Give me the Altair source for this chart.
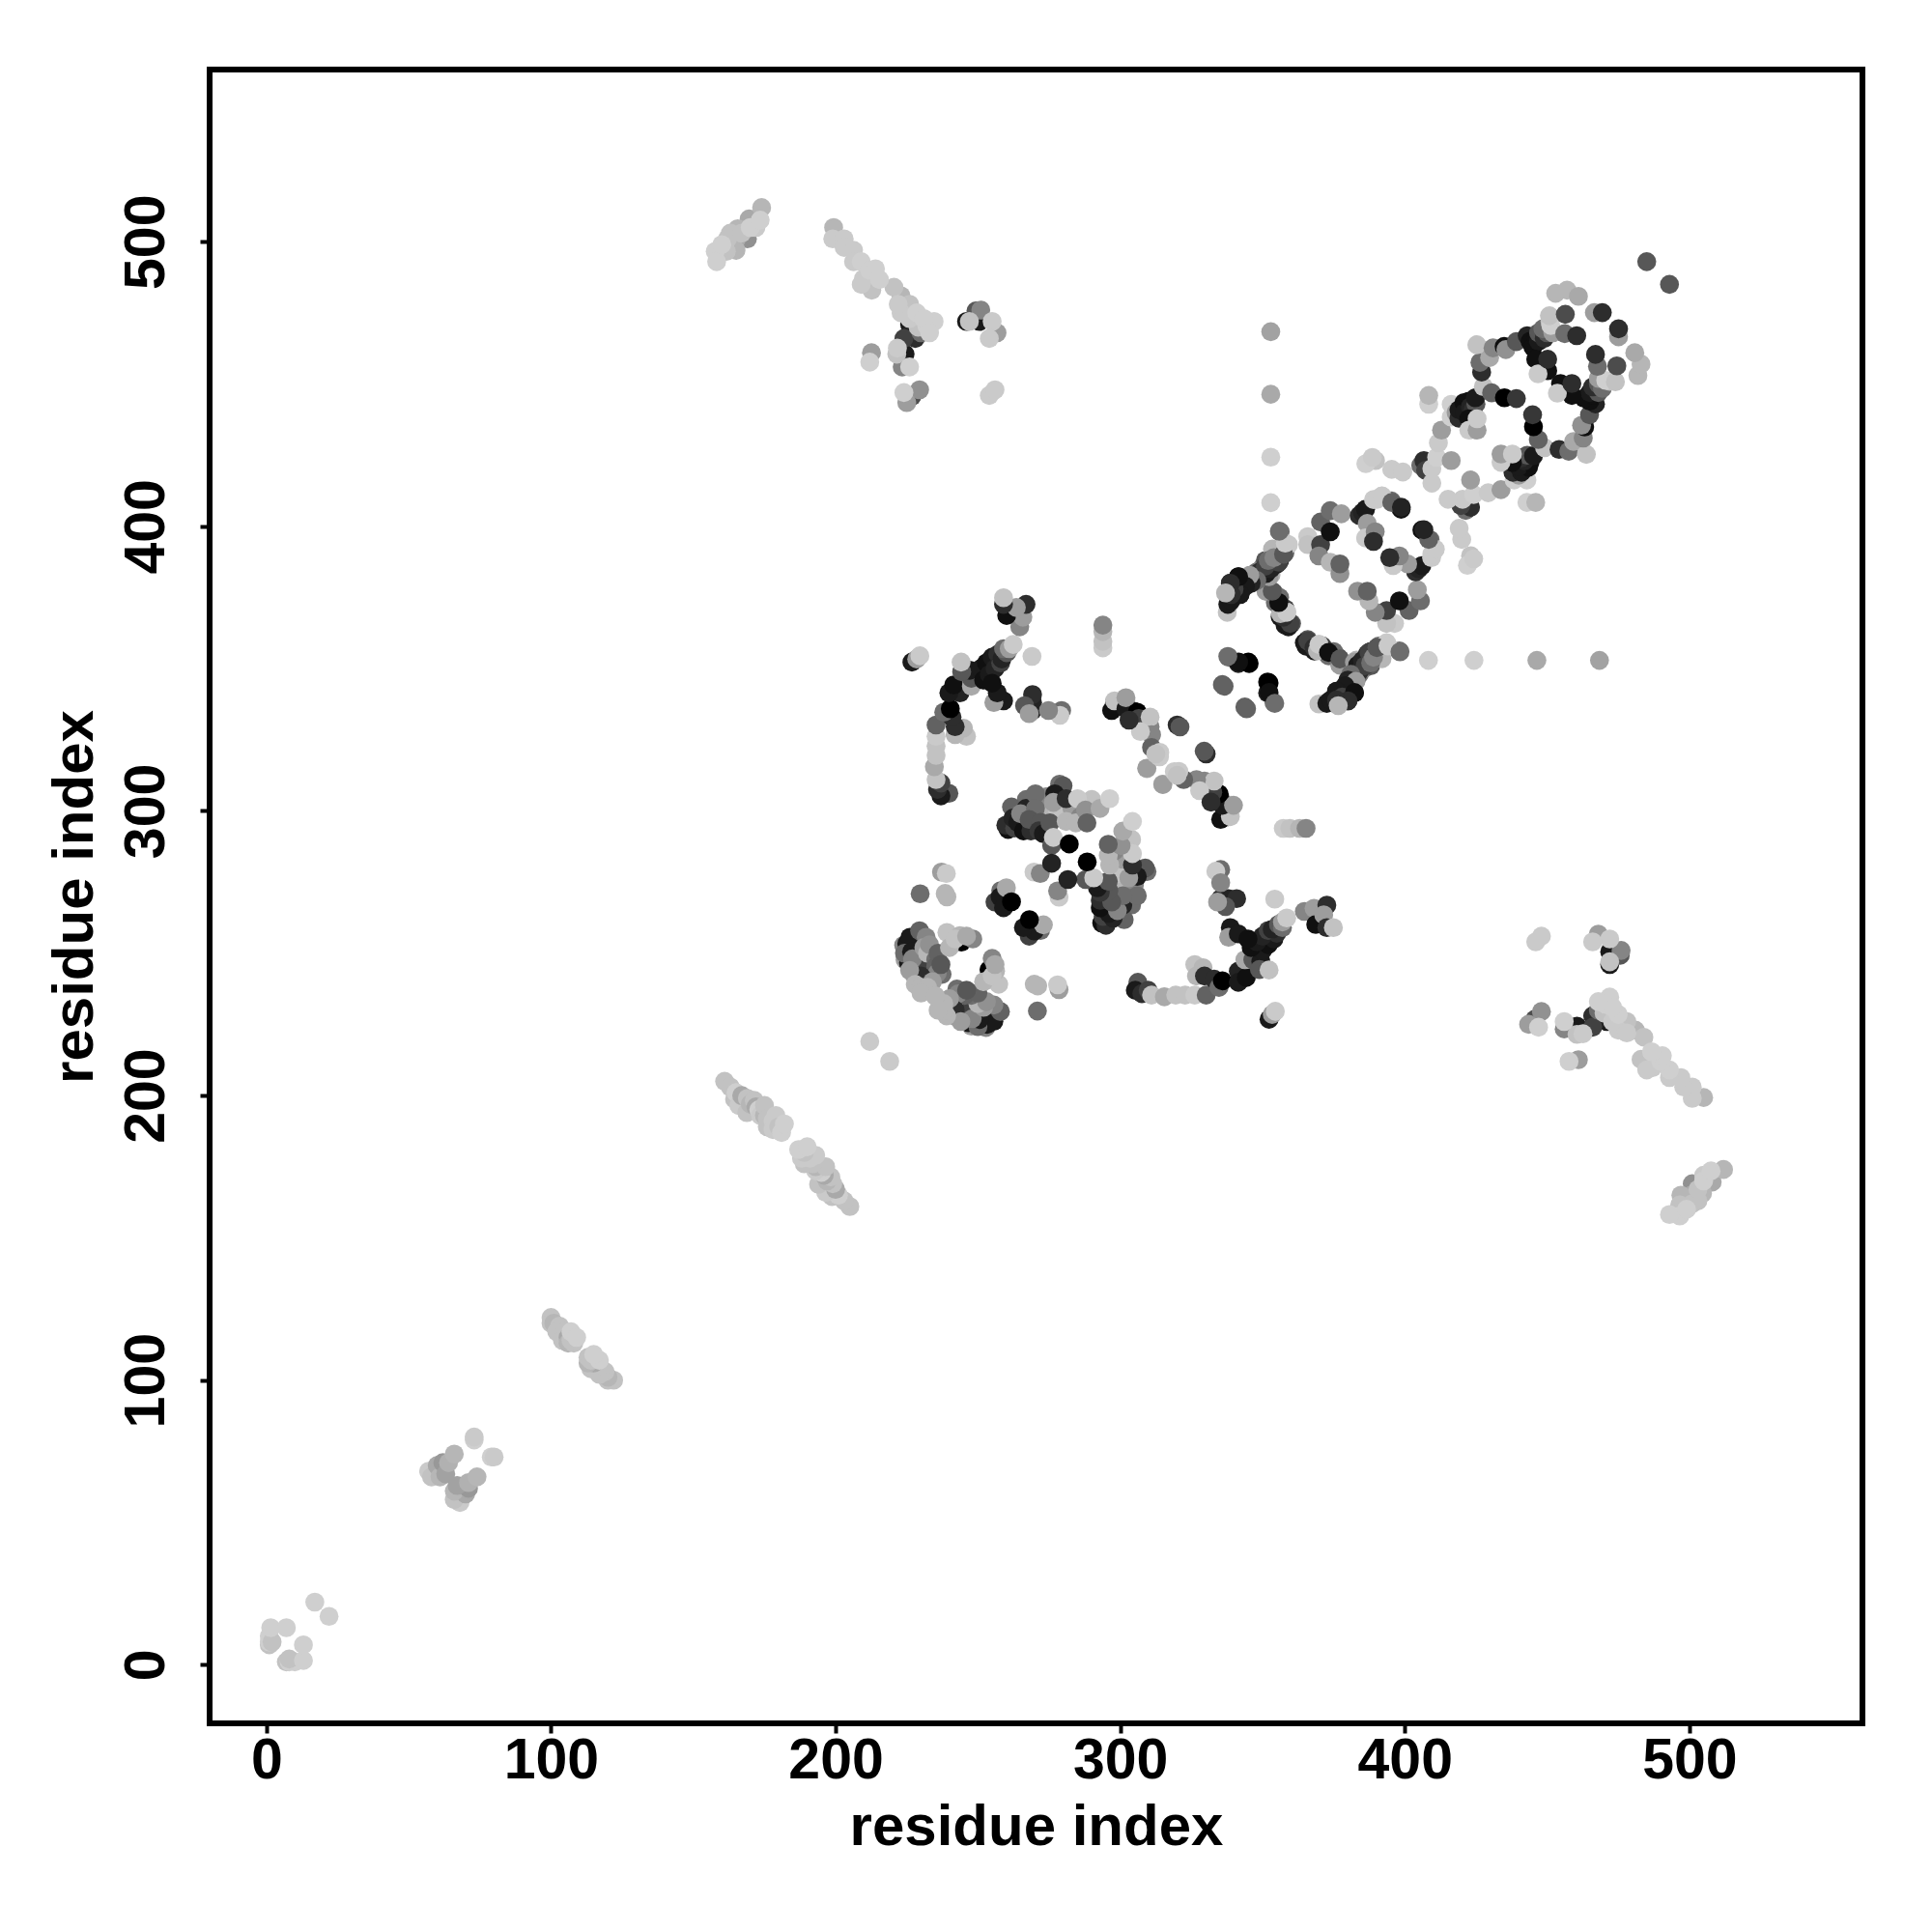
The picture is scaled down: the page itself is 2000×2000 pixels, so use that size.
import altair as alt
import pandas as pd

# contacts: (residue a, residue b, strength); the map is symmetric
terminal = [(1,7,.15),(1,8,.1),(1,10,.1),(2,8,.15),(1.5,13,.1),(7,13,.1),(17,22,.1)]
strand_60 = [(57,68,.12),(58,66,.15),(60,70,.25),(61,66,.2),(62,71,.32),(63,67,.28),(64,71,.22),(66,74,.2),(73,79,.1),(73,80,.12)]
strand_100 = [(100,122,.15),(100,120,.15),(101,120,.2),(103,119,.15),(102,117,.15),(105,117,.15),(104,114,.15),(106,115,.25),
              (106,113,.2),(108,113,.15),(107,114,.15),(107,117,.1),(109,115,.1)]
strand_160 = [(161,205,.15),(163,203,.15),(164.5,198.7,.15),(165,201,.1),(166,196.5,.12),(167,200,.25),(168.8,194,.15),(169,199,.15),
              (170,197,.2),(171.4,198.3,.15),(172,196,.25),(173,195,.1),(173.6,193,.12),(175,193,.2),(175,196.5,.15),(176,192,.15),
              (176,189,.15),(178,191,.12),(178,188,.12),(179,193,.12),(180,189,.15),(181,187,.1),(182,190,.1)]
sheet_top = [(157.7,496.6,.1),(158.2,493,.1),(160,499,.1),(161.6,496.6,.15),(162,501,.15),(163,498,.2),(163,503,.15),(165,497,.2),
             (165,500.6,.25),(165.6,504.6,.2),(167,503,.15),(169,501,.35),(169.6,508,.25),(170,505,.1),(172,505,.12),(173.5,507.6,.1),(174,512,.2)]
sheet_mid = [(199.3,505,.2),(199,501,.12),(203,501,.12),(203,498,.12),(206.3,497,.12),(206.3,493,.12),(209,493,.1),
             (212,490,.1),(214,490.5,.1),(209.8,487,.12),(209,485,.12),(212.7,483,.15),(215.4,486.7,.1),(220.5,484,.15),
             (223,481,.2),(226,478,.15),(223,475,.12),(228.5,475,.1),(226.7,468,.85),(224,466,.7),(228,466,.8),(230,468,.5),
             (226,471,.9),(232,470.6,.1),(234.6,472,.1),(221.7,462.6,.12),(224.4,460.5,.9),(221.5,460.5,.15),(223.4,456,.4),
             (226,456,.1),(212,457.7,.1),(212.6,461,.3),(224,447,.1),(225,443.5,.3),(226.8,445.7,.65),(229.5,448,.35),
             (231,473,.1),(233,468,.1),(229,470,.15),(226,473,.12),(222,478,.12)]
sheet_far = [(249.3,475.7,.6),(246,472,.9),(247,472,.15),(250.5,472,.9),(251,476,.4),(255,472,.12),(254,466,.12),(256.7,468,.3),
             (254,446,.12),(256,448,.12)]
singles = [(212,219,.12),(352.9,408.3,.1),(352.9,424.3,.1),(352.9,446.4,.25),(352.9,468.4,.28),(485,493,.6)]
centre = [(272,302,.3),(274,298,.2),(278,300,.15),(283,301,.3),(286,298,.4),(290,304,.15),(267,304,.5),(274,305,.4),
          (261.8,301.4,.55),(260.6,293.5,.95),(259.8,295,.8),(262.9,294,.7),(262.3,297.5,.85),(264,296,.9),(266,293,.95),
          (266.9,300.9,.85),(265,299,.4),(268.6,293,.8),(270.2,306,.5),(270.2,300.9,.5),(268,297,.6),(272,296,.6),(271.4,293,.75),
          (273,292,.9),(274.9,292.3,.9),(275.3,295.8,.6),(275.9,287.9,.6),(276.5,290.7,.12),(282.1,288.4,1),(278.7,309.4,.5),
          (279.9,308.8,.6),(277,306,.9),(276.5,303,.3),(281,304.3,.8),(285,304.3,.12),(281,296.3,.2),(284.4,295.8,.2),
          (287.8,300.3,.35),(288.3,295.8,.55),(292.9,300.9,.25),(296.3,304.3,.1),(269.7,278.5,.12),(271.9,278,.4),(275.9,281.6,.85),
          (258,272,.5),(256,268,.7),(257.8,269.8,.9),(259,266,.9),(260,273,.25),(261.8,268.1,1),(237.2,278.5,.3),(238.9,278,.12),
          (229.7,270.9,.5),(239.1,269.8,.2),(238.5,271,.2)]
hairpin = [(223.9,252.8,.4),(225,253.3,.9),(226.1,255.6,.9),(229.5,257.9,.55),(231.8,255.6,.4),(239.1,257.3,.15),(243.7,256.2,.2),
           (244.2,253.9,1),(248.2,255,.4),(224.4,247.7,.3),(225.6,246.6,.9),(224.2,250,.5),(226.7,250.5,.9),(229.5,246.6,.7),
           (227,248,.4),(231,252,.3),(232.3,250,.2),(235.2,247.7,.5),(235.2,245.4,.55),(237.4,242.6,.5),(235.7,243,.4),(227.8,242,.3),
           (230,242,.8),(226,244,.3),(233,253,.35),(236,250,.55),(237,246,.6),(234,240,.3),(228,239,.2),(240,252,.2),(242,255,.15),
           (246,256,.25),(230,238,.2),(232.3,238,.2),(230,236,.2),(235,235,.2)]
arc_low = [(239.8,306.2,.6),(237,305.3,.9),(235.8,307.6,.8),(237,309.8,.7),(235.3,311,.15),(234.7,315.5,.25),(235.3,319.5,.15),
           (235.3,322.8,.15),(235.3,326.2,.12),(246,326.2,.15),(244.9,329.1,.2),(242,326.8,.2),(242,329.6,.8),(235.3,330.2,.55),
           (240.9,333,.8),(238,334.7,.5),(240.3,335.9,1),(243.7,341.5,.85),(239.8,341.5,.9),(241.5,344.3,.95),(247.7,343.8,.25),
           (247.7,346.6,.6),(247.1,349.4,.9),(244.3,348.9,.6),(244.1,352.3,.15),(253.4,348.3,.95),(255,350,.95),(256.8,351.7,.9),
           (251,350,.9),(253,352,.95),(255,354,.9),(257,355,.8),(252,346,.95),(254,348,.9),(256,350,.85),(258,352,.7),
           (258.4,353.4,.85),(260.1,355.6,.6),(259,357,.5),(261,357,.3),(262.4,358.5,.12),(264.7,364.7,.4),(265.8,368.1,.3),(266.9,372.6,.8),(260.1,368.7,.95),
           (263.5,371.5,.3),(259,372.6,.8),(259,374.9,.15),(259,338.7,.9),(255.6,338.1,.3),(256.8,341.5,.9),(255,344.9,.95),
           (269.2,335.3,.8),(269.2,338.1,.85),(269.2,340.9,.8),(266.4,337,.6),(268,334.2,.3),(279.4,335.3,.5),(278.8,333.6,.12),
           (274.8,335.3,.4),(226.8,352.3,.9),(228.5,353.4,.3),(229.6,354.5,.12),(269,354.3,.12),(293.9,357.3,.12),(293.9,359.6,.15),
           (293.9,363,.2),(293.9,365.3,.4)]
arc_near = [(298,338,.9),(302,339,.12),(304.8,335,.9),(309,332.5,.5),(297,335.3,.95),(298,338.7,.15),(302,335.9,.9),(302,339.8,.3),
            (306,334.7,1),(306.5,332.5,.7),(310.5,329.6,.4),(310.5,333,.15),(311,326.8,.4),(307.1,327.9,.12),(303.1,331.9,.8),
            (311,322.3,.55),(313.3,319.5,.12),(313.9,320.6,.12),(309.4,314.9,.2),(315,309.3,.3),(319,313.8,.12),(320,312.5,.15),
            (320,330.2,.8),(321,329.5,.6)]
helix_a = [(338.1,372.7,.7),(337.6,376.6,.85),(338.1,375,.95),(338.7,380,.8),(340,378,.9),(342.1,376.1,.85),(341.5,382.3,.95),(343,379,.85),
           (345,381,.6),(346,382.9,.4),(346.6,380.6,.8),(348,384,.5),(350,385.7,.4),(350,382,.7),(352.9,384.6,.6),(351,388,.6),(352,387,.4),
           (353,383,.2),(354,389,.3),(355.1,386.8,.85),(356.2,398.1,.5),(353.5,392,.2),(357.9,390.8,.5),
           (356,388,.9),(359.1,393.6,.12),(354,376.6,.6),(352,377,.2),(354.5,373.2,.5),(356.2,372.7,.95),(356,375,.5),(358,371,.7),(358.5,369.9,.12),
           (356.2,368.2,.9),(357.9,365.3,.9),(360.2,365.9,.6),(364.7,359.1,.9),(365.9,359.7,.7),(368.1,357.4,.8),(369.3,356.3,.2),
           (369.8,358.5,.12),(373.2,355.7,.95),(377.2,351.2,.3),(377.2,353.4,.6),(382.3,352.3,.3),(383.4,351.2,.9),(384,349,.8),(385.1,352.9,.85),
           (386,351,.7),(387.4,355.7,.7),(388,352,.5),(389,354,.4),(390.2,357.4,.6),(394.1,358,.12),(398.3,355.9,.5),(381,348,.5),(380,346,.85),(382.8,345.5,.3),
           (379,344,.9),(376,342.1,.9),(378,340,.7),(382.3,341.6,.95),(380,338.7,.8),(369.8,337.6,.15),(372.6,337.8,.9),(374,339,.9),(376,339,.8),(376.6,337,.2),
           (338.1,354,.45),(341.5,351.8,.85),(345.3,351.8,1),(352.3,345,1),(352.3,341.6,.95),(354.3,337.8,.5),(336.5,343.8,.55),(344.4,335.9,.55)]
helix_b = [(365.9,396.4,.12),(365.9,393.6,.15),(370.4,401.5,.55),(370.4,393.6,.7),(373.8,405.5,.5),(373.8,398.1,.95),(377.7,404.4,.3),
           (369.8,389.6,.4),(373.8,387.4,.2),(377.2,383.4,.35),(377.2,386.8,.55),(384,403.8,.8),(385.1,404.9,.85),(386.2,406,.9),
           (389,409.4,.12),(391.9,410.6,.12),(395.3,408.9,.5),(398.7,406,.95),(386.8,401,.3),(386.2,395.9,.12),(389.6,398.1,.4),
           (389,394.7,.8),(390.3,409.5,.12),(392,410.7,.12),(395.4,408.4,.55),(398.8,406.7,.85)]
helix_c = [(389.7,423.1,.15),(395.4,420,.12),(399.3,419.1,.12),(386.3,422,.1),(388.6,424.2,.12),(405.6,421.4,.5),(406.7,423.1,.8),
           (407.3,419.7,.7),(409.5,420.3,.12),(409.5,415.2,.12),(411.2,424.2,.1),(416.3,423.1,.3),(411.8,429.3,.12),(412.9,433.8,.3),
           (408.4,442.9,.1),(408.4,446,.2),(416.3,438.4,.1),(416.3,442.9,.1),(418,440,.3),(419,438,.8),(419,441,.9),(420.8,443.5,.95),(421,440,.9),(422.5,444,.95),
           (423,442,.85),(424,441,.8),(425,443,.6),(424.8,445.2,.9),
           (422.5,437.8,.95),(422.5,433.8,.12),(425.4,433.8,.3),(425.4,437.8,.12),(427.6,449.1,.15),(430.5,446.9,.55),(435,445.2,1),
           (439.2,444.9,.75),(427,454.2,.8),(426.4,457.6,.5),(429.8,459.3,.25),(425.3,463.8,.15),(431,462.7,.4),(434.9,463.2,.95),
           (435.5,462.1,.35),(439.2,464.9,.6),(443,467,.85),(444,465,.95),(445,463,.95),(446.2,466,.95),(447,465,.9),(447,468,.6),(449,466,.8),(450,468,.6),(448.5,469.4,.5),(452,468,.3),(446,458.7,.95),(450.2,454.7,.95),
           (446.8,453.6,.12),(450.2,458.7,.8),(451,472,.15),(451.3,470.6,.1),(450.8,474,.15),(456.2,467.7,.5),(456.4,474.5,.65),(460.4,467,.8),
           (453,481.9,.2),(457,483,.2),(461,480.8,.25),(466.6,475.1,.3),(469.4,475.1,.8)]

# in these crowded patches the paler dots lie over the darker ones
for patch in (sheet_top, sheet_mid, sheet_far):
    patch.sort(key=lambda c: -c[2])

groups = [terminal, strand_60, strand_100, strand_160, sheet_top, sheet_mid, sheet_far, singles,
          centre, hairpin, arc_low, arc_near, helix_a, helix_b, helix_c]

rows = []
for group in groups:
    for a, b, s in group:
        rows.append({"x": a, "y": b, "strength": s})
        rows.append({"x": b, "y": a, "strength": s})
df = pd.DataFrame(rows)
df["order"] = range(len(df))

FONT = "Liberation Sans"
ticks = [0, 100, 200, 300, 400, 500]

chart = (
    alt.Chart(df)
    .mark_circle(size=385, opacity=1)
    .encode(
        x=alt.X("x:Q", scale=alt.Scale(domain=[-19.96, 560.8], nice=False, zero=False),
                axis=alt.Axis(values=ticks, title="residue index", grid=False, domain=False, tickColor="black",
                              tickWidth=4, tickSize=10, labelFont=FONT, labelFontSize=59, labelFontWeight="bold",
                              labelColor="black", labelPadding=-1, labelFlush=False, titleFont=FONT, titleFontSize=60,
                              titleFontWeight="bold", titleColor="black", titlePadding=10, format="d")),
        y=alt.Y("y:Q", scale=alt.Scale(domain=[-20.6, 560.5], nice=False, zero=False),
                axis=alt.Axis(values=ticks, title="residue index", grid=False, domain=False, tickColor="black",
                              tickWidth=4, tickSize=10, labelFont=FONT, labelFontSize=59, labelFontWeight="bold",
                              labelColor="black", labelAngle=270, labelAlign="center", labelBaseline="bottom",
                              labelPadding=26, labelFlush=False, titleFont=FONT, titleFontSize=60, titleFontWeight="bold",
                              titleColor="black", titlePadding=14, format="d")),
        color=alt.Color("strength:Q", legend=None,
                        scale=alt.Scale(domain=[0.1, 1], range=["#cfcfcf", "#000000"], clamp=True)),
        order=alt.Order("order:Q"),
    )
    .properties(width=1711, height=1712, background="white",
                padding={"left": 209, "top": 64, "right": 40, "bottom": 200},
                autosize=alt.AutoSizeParams(type="none"))
    .configure_view(stroke="black", strokeWidth=6, fill="white")
)

chart.save("out.html", embed_options={"renderer": "svg", "actions": False})
